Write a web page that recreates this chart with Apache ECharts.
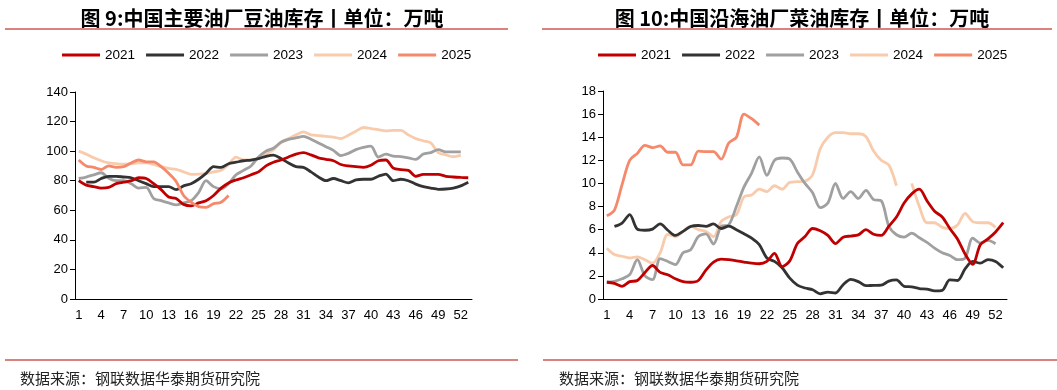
<!DOCTYPE html>
<html>
<head>
<meta charset="utf-8">
<script src="https://cdn.jsdelivr.net/npm/echarts@6/dist/echarts.min.js"></script>
<style>
html,body{margin:0;padding:0;background:#fff;}
#c{width:1057px;height:390px;}
</style>
</head>
<body>
<div id="c"></div>
<script>
// ---- data ----
var weeks = [];
for (var w = 1; w <= 53; w++) weeks.push(String(w));

var years = ['2021', '2022', '2023', '2024', '2025'];
var colors = ['#C00000', '#333333', '#A0A0A0', '#F8CBAD', '#F4896B'];

var titleLeft = '图 9:中国主要油厂豆油库存丨单位：万吨';
var titleRight = '图 10:中国沿海油厂菜油库存丨单位：万吨';
var sourceText = '数据来源：钢联数据华泰期货研究院';

// Soybean oil stocks (left chart), weeks 1..53
var soy2021 = [80,77,76,75,75.5,78,79,80,82,81.5,78,74,69,68,64,63,65,66.5,70,75,78.5,80.5,82,84,86,90,92.5,94,96,98,99,97.5,95.5,94.5,93.5,91,90,89.5,89,90.5,93.5,94,88.5,87.5,87,83,84.3,84.3,84.3,83,82.5,82.2,82];
var soy2022 = [null,79,79,81.5,83,83,82.5,82,80,78,76,76,76,74,76.5,78,81,85,89.5,89,91.5,92.5,93.5,94,95,96.5,97.3,95,92,89.5,89,86,82.5,80,81.5,80,78.6,80.5,81,81,83,84.5,80,81,80,77.7,76,75,74.2,74.4,75,76.5,79];
var soy2023 = [81.5,82.5,84,85.4,81.6,80,80,78,75,75.5,68,66.5,65,63.6,65,66.5,72,80,76,74.5,78,84,87,90,96,100,102,106,108,109,110,108,105.5,103,100.5,97,98.5,101,102.5,103.4,96,98,96.6,96.3,95.5,94.4,98,99,101,99.5,99.5,99.5,null];
var soy2024 = [100,98,95.5,93.5,92,91.5,91.2,91.5,92,92,91,89.5,88.3,87.6,86,84.3,84.5,85,86,87,91,96,94,94,95,98,101,106,108.5,111,113,111,110.5,110,109.5,108.5,110.8,113.5,116,115.3,114.5,113.7,114,114,111,108.5,107,105.6,99,97.5,96.2,97.3,null];
var soy2025 = [94,90,89,87.6,90,89,89.5,92,94,92.8,92.8,89.5,85,79.5,70,65.5,62.5,62,64.5,65.5,70];

// Rapeseed oil stocks (right chart), weeks 1..53
var rape2021 = [1.45,1.35,1.1,1.5,1.6,2.3,2.9,2.3,2.1,1.75,1.5,1.45,1.6,2.5,3.2,3.45,3.4,3.3,3.2,3.1,3.05,3.25,3.95,2.8,3.3,4.8,5.4,6.1,5.9,5.5,4.8,5.35,5.45,5.55,6.0,5.6,5.5,6.3,7.1,8.3,9.1,9.5,8.5,7.6,7.1,6.1,5.2,3.9,3.0,4.7,5.2,5.8,6.6];
var rape2022 = [null,6.28,6.57,7.3,6.05,5.95,6.05,6.5,5.95,5.5,5.85,6.28,6.36,6.28,6.5,6.1,6.3,6.0,5.65,5.27,4.7,3.55,3.25,2.7,1.8,1.2,0.95,0.8,0.45,0.6,0.52,1.24,1.7,1.5,1.15,1.18,1.2,1.55,1.65,1.1,1.05,0.9,0.86,0.7,0.75,1.65,1.6,2.6,3.25,3.1,3.4,3.25,2.7];
var rape2023 = [1.47,1.53,1.75,2.1,3.4,2.0,1.67,3.5,3.25,2.97,4.0,4.26,5.4,5.64,4.75,6.28,6.42,8.0,9.7,10.9,12.3,10.7,12.0,12.2,12.1,11.0,10.0,9.2,7.9,8.3,10.0,8.7,9.3,8.7,9.4,8.6,8.5,6.3,5.56,5.36,5.7,5.3,4.9,4.4,4.0,3.77,3.4,3.54,5.27,4.84,5.07,4.78,null];
var rape2024 = [4.4,3.85,3.7,3.55,3.65,3.4,3.1,4.0,5.6,5.4,5.85,6.3,6.0,5.85,5.4,6.7,7.1,7.3,8.85,9.0,9.5,9.3,9.8,9.5,10.1,10.15,10.2,10.75,13.0,14.0,14.4,14.4,14.3,14.3,14.05,12.8,12.0,11.6,9.8,null,10.0,8.0,6.6,6.6,6.2,6.1,6.4,7.4,6.7,6.6,6.6,6.2,null];
var rape2025 = [7.2,7.7,9.9,12.0,12.6,13.3,13.1,13.25,12.7,12.7,11.6,11.6,12.8,12.75,12.75,12.1,13.5,14.0,16.0,15.6,15.05];

var soyData = [soy2021, soy2022, soy2023, soy2024, soy2025];
var rapeData = [rape2021, rape2022, rape2023, rape2024, rape2025];

// ---- chart ----
var chart = echarts.init(document.getElementById('c'));
var FONT = 'Liberation Sans, Arial, sans-serif';
var CJK = 'Noto Sans CJK SC, sans-serif';

function xAxis(gi) {
  return {
    type: 'category', gridIndex: gi, data: weeks, boundaryGap: true,
    axisLine: {lineStyle: {color: '#000', width: 1}},
    axisTick: {interval: 2, length: 5, lineStyle: {color: '#000'}},
    axisLabel: {interval: 2, color: '#000', fontSize: 13, fontFamily: FONT, margin: 10}
  };
}
function yAxis(gi, max, interval) {
  return {
    type: 'value', gridIndex: gi, min: 0, max: max, interval: interval,
    splitLine: {show: false},
    axisLine: {show: true, lineStyle: {color: '#000', width: 1}},
    axisTick: {show: true, length: 5, lineStyle: {color: '#000'}},
    axisLabel: {color: '#000', fontSize: 13, fontFamily: FONT, margin: 7}
  };
}

var series = [];
years.forEach(function (y, i) {
  series.push({
    name: y, type: 'line', xAxisIndex: 0, yAxisIndex: 0, data: soyData[i],
    smooth: 0.3, showSymbol: false, symbol: 'none', connectNulls: false,
    lineStyle: {color: colors[i], width: 2.8}, itemStyle: {color: colors[i]},
    z: 10 - i
  });
  series.push({
    name: y, type: 'line', xAxisIndex: 1, yAxisIndex: 1, data: rapeData[i],
    smooth: 0.3, showSymbol: false, symbol: 'none', connectNulls: false,
    lineStyle: {color: colors[i], width: 2.8}, itemStyle: {color: colors[i]},
    z: 10 - i
  });
});
series.forEach(function(s){ if (s.name === '2025') s.z = 20; });

function legend(left) {
  return {
    data: years, left: left, top: 43, icon: 'rect', itemWidth: 38, itemHeight: 3,
    itemGap: 11, textStyle: {fontSize: 13.5, fontFamily: FONT, color: '#000'}
  };
}

var lineColor = '#D9827E';
chart.setOption({
  animation: false,
  backgroundColor: '#fff',
  title: [
    {text: titleLeft, left: 257, top: 3, textAlign: 'center',
     textStyle: {fontSize: 20, fontWeight: 'bold', color: '#000', fontFamily: CJK}},
    {text: titleRight, left: 797, top: 3, textAlign: 'center',
     textStyle: {fontSize: 20, fontWeight: 'bold', color: '#000', fontFamily: CJK}},
    {text: sourceText, left: 15, top: 366,
     textStyle: {fontSize: 15, fontWeight: 'normal', color: '#222', fontFamily: CJK}},
    {text: sourceText, left: 554, top: 366,
     textStyle: {fontSize: 15, fontWeight: 'normal', color: '#222', fontFamily: CJK}}
  ],
  legend: [legend(57), legend(593)],
  grid: [
    {left: 75, top: 92, width: 397, height: 207},
    {left: 603, top: 91, width: 404, height: 208}
  ],
  xAxis: [xAxis(0), xAxis(1)],
  yAxis: [yAxis(0, 140, 20), yAxis(1, 18, 2)],
  graphic: [
    {type: 'line', shape: {x1: 5, y1: 29, x2: 508, y2: 29}, style: {stroke: lineColor, lineWidth: 2}},
    {type: 'line', shape: {x1: 542, y1: 29, x2: 1052, y2: 29}, style: {stroke: lineColor, lineWidth: 2}},
    {type: 'line', shape: {x1: 5, y1: 360, x2: 518, y2: 360}, style: {stroke: lineColor, lineWidth: 2}},
    {type: 'line', shape: {x1: 543, y1: 360, x2: 1057, y2: 360}, style: {stroke: lineColor, lineWidth: 2}}
  ],
  series: series
});
</script>
</body>
</html>
